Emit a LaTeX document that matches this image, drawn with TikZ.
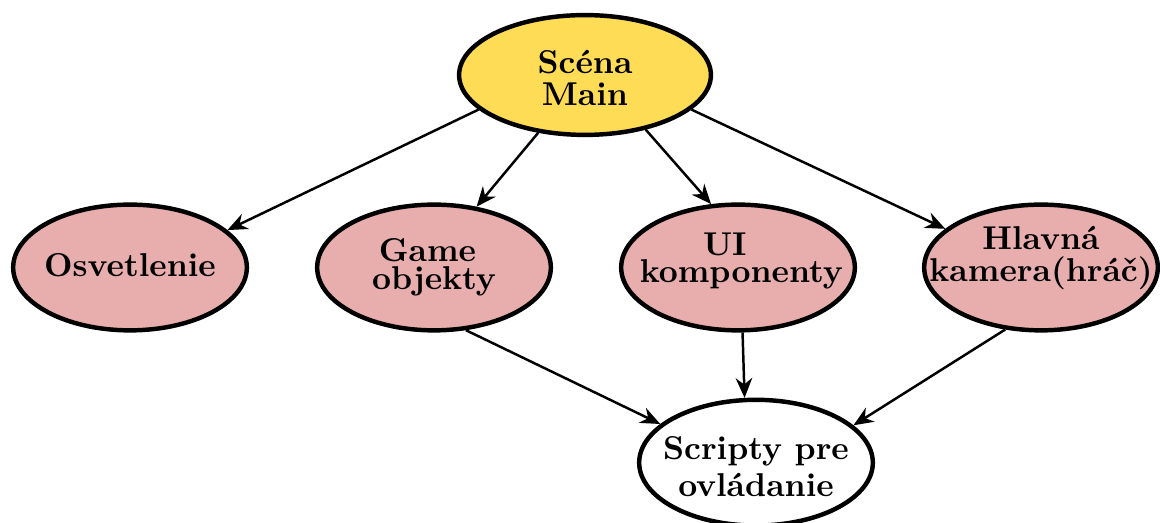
\documentclass[tikz,border=0pt]{standalone}
\usetikzlibrary{shapes.geometric,arrows.meta}
\definecolor{scyellow}{RGB}{255,220,85}
\definecolor{scpink}{RGB}{232,174,174}
% zero-size two-line label: #1 raise of first baseline, #3 raise of second baseline
\newcommand\twolbl[4]{\makebox[0pt]{\raisebox{#1}[0pt][0pt]{\makebox[0pt]{#2}}}\makebox[0pt]{\raisebox{#3}[0pt][0pt]{\makebox[0pt]{#4}}}}
\newcommand\onelbl[2]{\makebox[0pt]{\raisebox{#1}[0pt][0pt]{\makebox[0pt]{#2}}}}
\begin{document}
\begin{tikzpicture}[x=0.303pt,y=-0.303pt,
  ell/.style={ellipse,draw=black,line width=1.35pt,inner sep=0pt,
    font=\bfseries,minimum width=70.8pt,minimum height=38.1pt,fill=scpink},
  top/.style={ell,fill=scyellow,minimum width=76.3pt,minimum height=36.3pt},
  wht/.style={ell,fill=white},
  arr/.style={-{Stealth[length=6pt,width=5pt]},line width=0.75pt}]
\useasboundingbox (0,0) rectangle (1160,523);
\node[top] (main) at (585,75) {\twolbl{0.5pt}{Scéna}{-9.1pt}{Main}};
\node[ell] (osv) at (130,267.5) {\onelbl{-2.7pt}{Osvetlenie}};
\node[ell] (game) at (434,267.5) {\twolbl{1.8pt}{Game\hspace{4pt}}{-6.8pt}{objekty}};
\node[ell] (ui) at (738,267.5) {\twolbl{3.6pt}{UI\hspace{8pt}}{-4.5pt}{\hspace{2pt}komponenty}};
\node[ell] (cam) at (1041,267.5) {\twolbl{5.3pt}{Hlavná}{-4.3pt}{kamera(hráč)}};
\node[wht] (scr) at (756,462.7) {\twolbl{1.1pt}{Scripty pre}{-10.3pt}{ovládanie}};
\draw[arr] (main.198.7) -- (osv.21.9);
\draw[arr] (main.231.1) -- (game.55.7);
\draw[arr] (main.318.3) -- (ui.113.5);
\draw[arr] (main.342.6) -- (cam.158.4);
\draw[arr] (game.297.8) -- (scr.158.1);
\draw[arr] (ui.274.2) -- (scr.100.5);
\draw[arr] (cam.240.1) -- (scr.21.2);
\end{tikzpicture}
\end{document}
